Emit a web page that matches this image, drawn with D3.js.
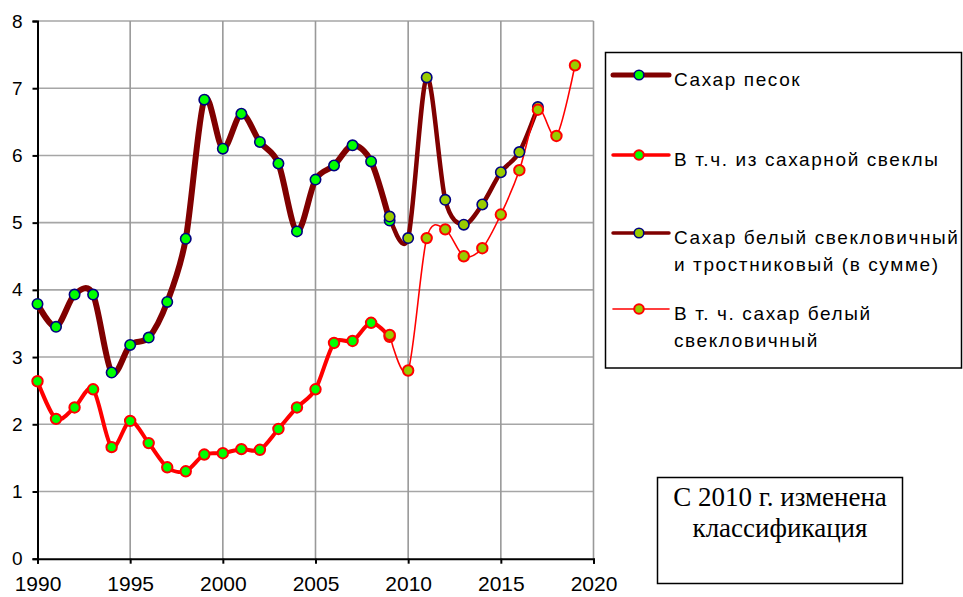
<!DOCTYPE html>
<html>
<head>
<meta charset="utf-8">
<script src="https://cdn.jsdelivr.net/npm/d3@7"></script>
<style>
  body { margin: 0; background: #fff; }
  svg { display: block; }
</style>
</head>
<body>
<svg id="chart" width="963" height="597"></svg>
<script>
"use strict";

// data
const yearsA = [1990, 1991, 1992, 1993, 1994, 1995, 1996, 1997, 1998, 1999,
                2000, 2001, 2002, 2003, 2004, 2005, 2006, 2007, 2008, 2009];
const sugarSand = [3.79, 3.45, 3.93, 3.93, 2.77, 3.18, 3.29, 3.82, 4.76, 6.83,
                   6.10, 6.62, 6.20, 5.88, 4.87, 5.64, 5.85, 6.15, 5.91, 5.03];
const fromBeet = [2.64, 2.08, 2.25, 2.52, 1.66, 2.05, 1.72, 1.36, 1.30, 1.55,
                  1.57, 1.63, 1.62, 1.93, 2.25, 2.52, 3.21, 3.24, 3.51, 3.30];

const yearsB = [2009, 2010, 2011, 2012, 2013, 2014, 2015, 2016, 2017];
const whiteTotal = [5.09, 4.77, 7.16, 5.34, 4.97, 5.27, 5.75, 6.05, 6.72];

const yearsC = [2009, 2010, 2011, 2012, 2013, 2014, 2015, 2016, 2017, 2018, 2019];
const whiteBeet = [3.33, 2.80, 4.77, 4.90, 4.50, 4.62, 5.12, 5.78, 6.68, 6.29, 7.34];

const xTicks = [1990, 1995, 2000, 2005, 2010, 2015, 2020];
const yTicks = [0, 1, 2, 3, 4, 5, 6, 7, 8];

const legendLabels = [
  ["Сахар песок"],
  ["В т.ч. из сахарной свеклы"],
  ["Сахар белый свекловичный", "и тростниковый (в сумме)"],
  ["В т. ч. сахар белый", "свекловичный"]
];
const noteLines = ["С 2010 г. изменена", "классификация"];

const series = [
  { years: yearsA, values: sugarSand, line: "#800000", width: 6, key: 5, fill: "#00ff00", stroke: "#000080", sw: 1.6 },
  { years: yearsA, values: fromBeet, line: "#ff0000", width: 4, key: 3.5, fill: "#00ff00", stroke: "#ff0000", sw: 2 },
  { years: yearsB, values: whiteTotal, line: "#800000", width: 4.5, key: 3.5, fill: "#99cc00", stroke: "#000080", sw: 1.6 },
  { years: yearsC, values: whiteBeet, line: "#ff0000", width: 1.6, key: 1.6, fill: "#99cc00", stroke: "#ff0000", sw: 2 }
];

const svg = d3.select("#chart");
const pLeft = 37.5, pRight = 593.5, pTop = 21, pBottom = 558.7;

const x = d3.scaleLinear().domain([1990, 2020]).range([pLeft, pRight]);
const y = d3.scaleLinear().domain([0, 8]).range([pBottom, pTop]);

// grid
const grid = svg.append("g");
grid.selectAll("line.h").data(yTicks.slice(1)).enter().append("line")
  .attr("x1", pLeft).attr("x2", pRight)
  .attr("y1", d => y(d)).attr("y2", d => y(d))
  .attr("stroke", "#a6a6a6").attr("stroke-width", 1.6);
grid.selectAll("line.v").data(xTicks.slice(1)).enter().append("line")
  .attr("x1", d => x(d)).attr("x2", d => x(d))
  .attr("y1", pTop).attr("y2", pBottom)
  .attr("stroke", "#999").attr("stroke-width", 1.6);

// axes
const yAxis = svg.append("g")
  .attr("transform", `translate(${pLeft},0)`)
  .call(d3.axisLeft(y).tickValues(yTicks).tickSize(5).tickPadding(10).tickFormat(d3.format("d")));
const xAxis = svg.append("g")
  .attr("transform", `translate(0,${pBottom})`)
  .call(d3.axisBottom(x).tickValues(xTicks).tickSize(5).tickPadding(12).tickFormat(d3.format("d")));
[yAxis, xAxis].forEach(a => {
  a.select(".domain").attr("stroke", "#000").attr("stroke-width", 2);
  a.selectAll(".tick line").attr("stroke", "#000").attr("stroke-width", 2);
  a.selectAll("text").attr("font-family", "Liberation Sans, Arial, sans-serif").attr("fill", "#000");
});
yAxis.selectAll("text").attr("font-size", 19);
xAxis.selectAll("text").attr("font-size", 21);

// lines
const line = d3.line()
  .x(d => x(d[0])).y(d => y(d[1]))
  .curve(d3.curveCardinal.tension(0.1));

series.forEach(s => {
  const pts = s.years.map((yr, i) => [yr, s.values[i]]);
  svg.append("path").datum(pts)
    .attr("d", line).attr("fill", "none")
    .attr("stroke", s.line).attr("stroke-width", s.width)
    .attr("stroke-linejoin", "round").attr("stroke-linecap", "round");
});
series.forEach(s => {
  const pts = s.years.map((yr, i) => [yr, s.values[i]]);
  svg.append("g").selectAll("circle").data(pts).enter().append("circle")
    .attr("cx", d => x(d[0])).attr("cy", d => y(d[1])).attr("r", 5.2)
    .attr("fill", s.fill).attr("stroke", s.stroke).attr("stroke-width", s.sw);
});

// legend
const lg = svg.append("g");
lg.append("rect").attr("x", 605.5).attr("y", 52.5).attr("width", 356).attr("height", 315.5)
  .attr("fill", "#fff").attr("stroke", "#000").attr("stroke-width", 1.5);
const rowY = [75, 155, 233, 309];
legendLabels.forEach((lines, i) => {
  const s = series[i];
  const g = lg.append("g").attr("transform", `translate(0,${rowY[i]})`);
  g.append("line").attr("x1", 613).attr("x2", 669).attr("y1", 0).attr("y2", 0)
    .attr("stroke", s.line).attr("stroke-width", s.key).attr("stroke-linecap", "round");
  g.append("circle").attr("cx", 639).attr("cy", 0).attr("r", 4.8)
    .attr("fill", s.fill).attr("stroke", s.stroke).attr("stroke-width", s.sw);
  lines.forEach((t, j) => {
    g.append("text").attr("x", 674).attr("y", 10.5 + j * 27)
      .attr("font-family", "Liberation Sans, Arial, sans-serif")
      .attr("font-size", 19).attr("letter-spacing", 1.6).attr("fill", "#000")
      .text(t);
  });
});

// note box
const nb = svg.append("g");
nb.append("rect").attr("x", 657.5).attr("y", 477.5).attr("width", 245).attr("height", 106)
  .attr("fill", "#fff").attr("stroke", "#000").attr("stroke-width", 1.5);
noteLines.forEach((t, j) => {
  nb.append("text").attr("x", 780).attr("y", 505.5 + j * 31).attr("text-anchor", "middle")
    .attr("font-family", "Liberation Serif, Times New Roman, serif")
    .attr("font-size", 27).attr("fill", "#000").text(t);
});
</script>
</body>
</html>
